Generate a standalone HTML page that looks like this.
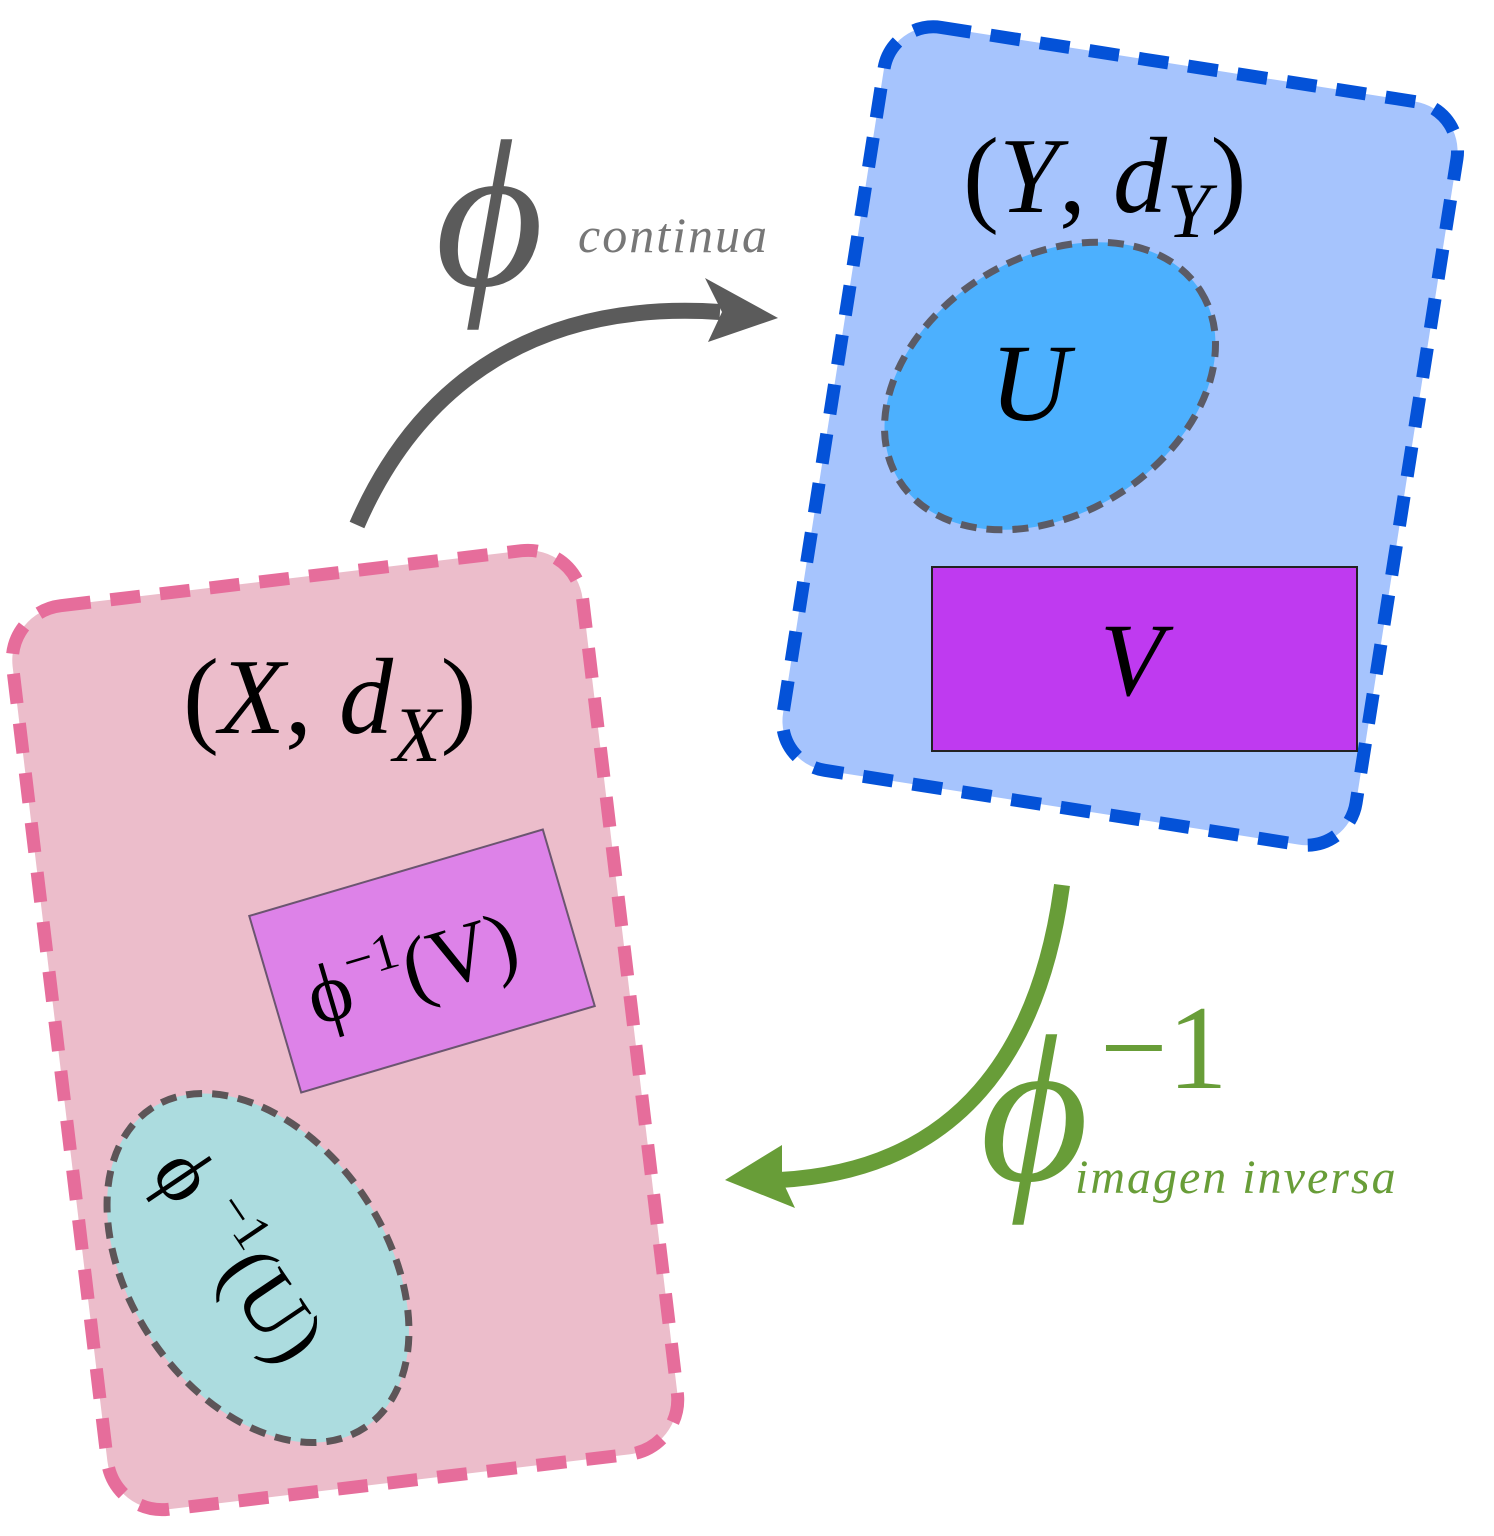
<!DOCTYPE html>
<html><head><meta charset="utf-8"><style>html,body{margin:0;padding:0;background:#fff}svg{display:block}svg text{font-family:"Liberation Serif","Times New Roman",serif}</style></head>
<body>
<svg width="1494" height="1536" viewBox="0 0 1494 1536" xmlns="http://www.w3.org/2000/svg">
<g transform="translate(345,1030) rotate(-6.8)">
<rect x="-287" y="-455" width="574" height="910" rx="55" fill="#ecbdcb" stroke="#e66d9b" stroke-width="13" stroke-dasharray="30,20"/>
</g>
<g transform="translate(1120,436) rotate(8.9)">
<rect x="-290" y="-376" width="580" height="752" rx="50" fill="#a6c4fd" stroke="#0452d8" stroke-width="13" stroke-dasharray="30,20"/>
</g>
<ellipse cx="1050" cy="386" rx="178" ry="128" transform="rotate(-32 1050 386)" fill="#4cb0fe" stroke="#5b5b66" stroke-width="7" stroke-dasharray="16,10"/>
<text x="990" y="420" font-size="110" font-style="italic">U</text>
<rect x="932" y="567" width="425" height="184" fill="#bf3af0" stroke="#222" stroke-width="2"/>
<text x="1100" y="695" font-size="104" font-style="italic">V</text>
<text x="963" y="212" font-size="108">(<tspan font-style="italic">Y</tspan>, <tspan font-style="italic">d</tspan><tspan font-style="italic" font-size="78" dy="25">Y</tspan><tspan dy="-25">)</tspan></text>
<text x="183" y="733" font-size="108">(<tspan font-style="italic">X</tspan>, <tspan font-style="italic">d</tspan><tspan font-style="italic" font-size="78" dy="28">X</tspan><tspan dy="-28">)</tspan></text>
<g transform="translate(422,961) rotate(-16.4)">
<rect x="-153" y="-92" width="306" height="184" fill="#dd82e8" stroke="#6b5570" stroke-width="2"/>
<text x="-120" y="32" font-size="84">ϕ<tspan font-size="52" dy="-34">−1</tspan><tspan dy="34">(V)</tspan></text>
</g>
<g transform="translate(258,1268) rotate(56)">
<ellipse cx="0" cy="0" rx="192" ry="128" fill="#acdcdf" stroke="#5d5558" stroke-width="7" stroke-dasharray="16,10"/>
<text x="-140" y="36" font-size="84">ϕ <tspan font-size="52" dy="-34">−1</tspan><tspan dy="34">(U)</tspan></text>
</g>
<path d="M357 525 C 420 380, 540 300, 720 312" fill="none" stroke="#5b5b5b" stroke-width="16"/>
<path d="M705 278 L778 318 L708 342 L722 312 Z" fill="#5b5b5b"/>
<text x="435" y="285" font-size="210" font-style="italic" fill="#5b5b5b">ϕ</text>
<text x="578" y="252" font-size="50" font-style="italic" fill="#777" letter-spacing="2">continua</text>
<path d="M1062 885 C 1040 1050, 960 1170, 780 1180" fill="none" stroke="#689d38" stroke-width="16"/>
<path d="M782 1145 L725 1180 L795 1208 L782 1180 Z" fill="#689d38"/>
<text x="980" y="1180" font-size="210" font-style="italic" fill="#689d38">ϕ</text>
<text x="1100" y="1088" font-size="120" fill="#689d38">−1</text>
<text x="1075" y="1193" font-size="48" font-style="italic" fill="#689d38" letter-spacing="2">imagen inversa</text>
</svg>
</body></html>
